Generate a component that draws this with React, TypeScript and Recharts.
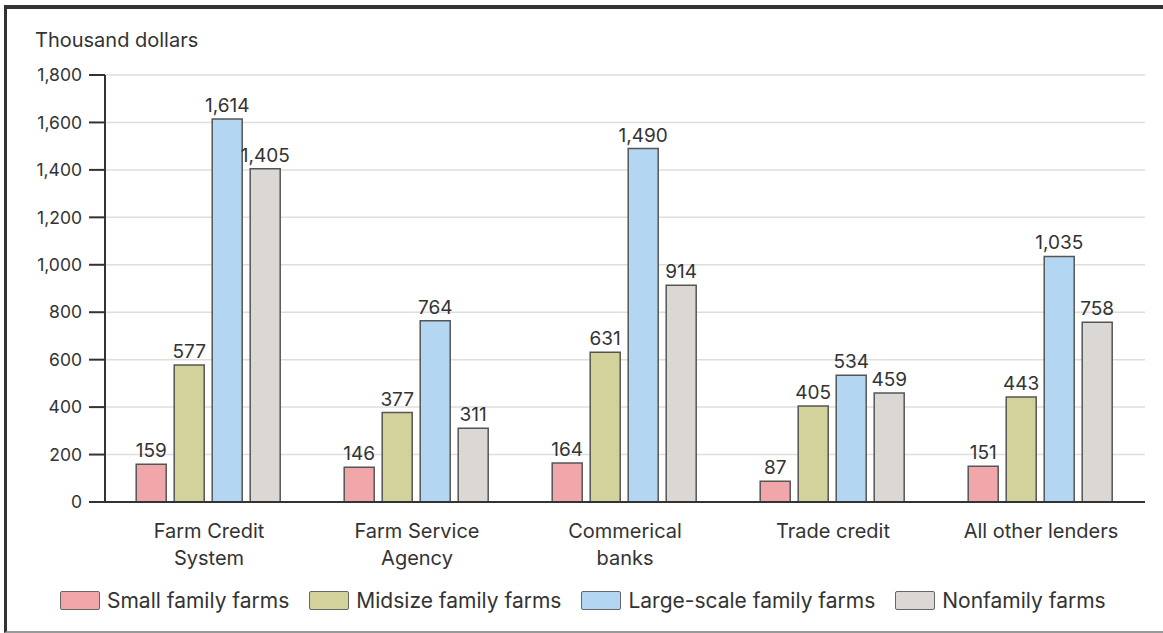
import React from "react";
import { BarChart, Bar, XAxis, YAxis, CartesianGrid, LabelList } from "recharts";

const categories = ["Farm Credit System", "Farm Service Agency", "Commerical banks", "Trade credit", "All other lenders"];
const tickLines = [["Farm Credit", "System"], ["Farm Service", "Agency"], ["Commerical", "banks"], ["Trade credit"], ["All other lenders"]];
const seriesNames = ["Small family farms", "Midsize family farms", "Large-scale family farms", "Nonfamily farms"];
const seriesColors = ["#f1a7aa", "#d4d29b", "#b3d7f2", "#dad7d4"];
const small = [159, 146, 164, 87, 151];
const midsize = [577, 377, 631, 405, 443];
const large = [1614, 764, 1490, 534, 1035];
const nonfamily = [1405, 311, 914, 459, 758];
const yTicks = [0, 200, 400, 600, 800, 1000, 1200, 1400, 1600, 1800];

const seriesValues = [small, midsize, large, nonfamily];
const keys = ["s0", "s1", "s2", "s3"];

const data = categories.map((c, i) => {
  const row: any = { name: c, idx: i };
  keys.forEach((k, j) => (row[k] = seriesValues[j][i]));
  return row;
});

const FONT = "Inter, 'Open Sans', sans-serif";
const fmt = (v: number) => v.toLocaleString("en-US");

const XTick = (props: any) => {
  const { x, y, payload } = props;
  const lines = tickLines[categories.indexOf(payload.value)] || [payload.value];
  return (
    <text x={x} y={y} textAnchor="middle" fill="#333" fontSize={20} fontFamily={FONT}>
      {lines.map((l, i) => (
        <tspan key={i} x={x} dy={i === 0 ? 28 : 27}>
          {l}
        </tspan>
      ))}
    </text>
  );
};

export default function App() {
  return (
    <div style={{ position: "absolute", left: 0, top: 0, width: 1163, height: 633, background: "#fff", fontFamily: FONT, overflow: "hidden" }}>
      <div
        style={{
          position: "absolute",
          left: 4,
          top: 5,
          width: 1163,
          height: 622,
          borderLeft: "3px solid #333",
          borderTop: "4px solid #333",
          borderBottom: "2px solid #999",
        }}
      />
      <div style={{ position: "absolute", left: 35, top: 28, fontSize: 20, color: "#333" }}>Thousand dollars</div>
      <div style={{ position: "absolute", left: 0, top: 0 }}>
        <BarChart
          width={1163}
          height={633}
          data={data}
          margin={{ top: 75, right: 18, left: 40, bottom: 0 }}
          barCategoryGap="15%"
          barGap={8}
        >
          <CartesianGrid vertical={false} stroke="#dedede" strokeWidth={1.5} />
          <XAxis
            dataKey="name"
            height={131}
            tick={<XTick />}
            tickLine={false}
            axisLine={{ stroke: "#333", strokeWidth: 2 }}
            interval={0}
          />
          <YAxis
            width={65}
            domain={[0, 1800]}
            ticks={yTicks}
            tickFormatter={fmt}
            tick={{ fill: "#333", fontSize: 17.5, fontFamily: FONT }}
            tickLine={{ stroke: "#333", strokeWidth: 2 }}
            tickSize={16}
            tickMargin={7}
            axisLine={{ stroke: "#333", strokeWidth: 2 }}
          />
          {keys.map((k, j) => (
            <Bar key={k} dataKey={k} name={seriesNames[j]} fill={seriesColors[j]} stroke="#555" strokeWidth={1.5} isAnimationActive={false}>
              <LabelList dataKey={k} position="top" offset={7} formatter={(v: any) => fmt(v)} fill="#333" fontSize={19} fontFamily={FONT} />
            </Bar>
          ))}
        </BarChart>
      </div>
      <div style={{ position: "absolute", left: 60, top: 588, display: "flex", alignItems: "center", fontSize: 21, color: "#333" }}>
        {seriesNames.map((n, j) => (
          <div key={n} style={{ display: "flex", alignItems: "center", marginRight: 20 }}>
            <div style={{ width: 38, height: 17, background: seriesColors[j], border: "1.5px solid #666", borderRadius: 2, marginRight: 7 }} />
            <span>{n}</span>
          </div>
        ))}
      </div>
    </div>
  );
}
